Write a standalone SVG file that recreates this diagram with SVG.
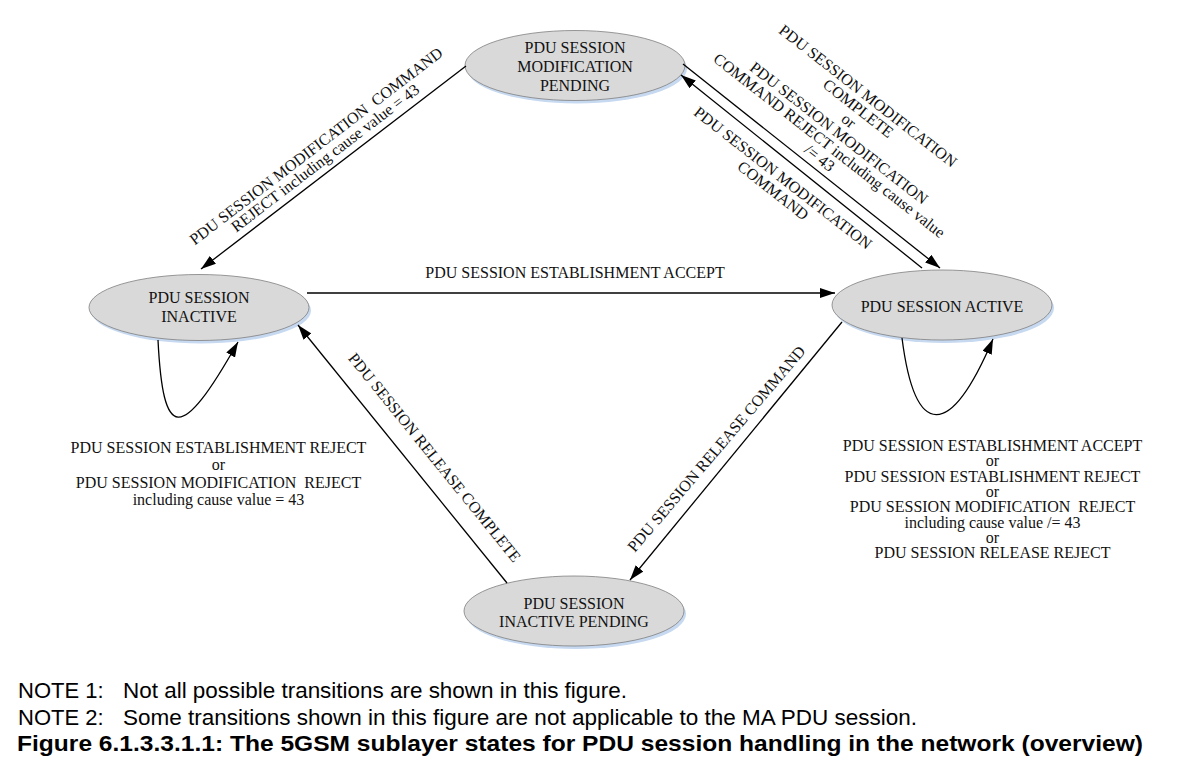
<svg xmlns="http://www.w3.org/2000/svg" width="1191" height="774" viewBox="0 0 1191 774">
  <style>
    .shadow { fill: #c6d9f0; stroke: none; }
    .state { fill: #d9d9d9; stroke: #7f7f7f; stroke-width: 0.8; }
    .t { font-family: "Liberation Serif", "Times New Roman", serif; font-size: 16px; fill: #111; text-anchor: middle; white-space: pre; }
    .edge { fill: none; stroke: #000; stroke-width: 1.3; marker-end: url(#arr); }
    .edge0 { fill: none; stroke: #000; stroke-width: 1.3; }
    .note { font-family: "Liberation Sans", Arial, sans-serif; font-size: 22px; fill: #000; }
    .cap { font-family: "Liberation Sans", Arial, sans-serif; font-size: 22px; font-weight: bold; fill: #000; }
  </style>
  <defs>
    <marker id="arr" markerWidth="15" markerHeight="10" refX="15" refY="5" orient="auto" markerUnits="userSpaceOnUse">
      <path d="M0,0 L15,5 L0,10 z" fill="#000"/>
    </marker>
  </defs>
  <rect width="1191" height="774" fill="#fff"/>

  <g id="state-modification-pending">
    <ellipse class="shadow" cx="577" cy="68.5" rx="110" ry="35"/>
    <ellipse class="state" cx="575" cy="65.5" rx="110" ry="35"/>
    <text class="t" x="575" y="53">PDU SESSION</text>
    <text class="t" x="575" y="72">MODIFICATION</text>
    <text class="t" x="575" y="91">PENDING</text>
  </g>

  <g id="state-inactive">
    <ellipse class="shadow" cx="201" cy="310.5" rx="110" ry="33"/>
    <ellipse class="state" cx="199" cy="307.5" rx="110" ry="33"/>
    <text class="t" x="199" y="303">PDU SESSION</text>
    <text class="t" x="199" y="322">INACTIVE</text>
  </g>

  <g id="state-active">
    <ellipse class="shadow" cx="944" cy="308" rx="110" ry="35"/>
    <ellipse class="state" cx="942" cy="305" rx="110" ry="35"/>
    <text class="t" x="942" y="312">PDU SESSION ACTIVE</text>
  </g>

  <g id="state-inactive-pending">
    <ellipse class="shadow" cx="576" cy="614" rx="110" ry="35"/>
    <ellipse class="state" cx="574" cy="611" rx="110" ry="35"/>
    <text class="t" x="574" y="609">PDU SESSION</text>
    <text class="t" x="574" y="627">INACTIVE PENDING</text>
  </g>

  <g id="connectors">
    <line class="edge" x1="466" y1="66" x2="201" y2="269"/>
    <line class="edge" x1="307" y1="293" x2="835" y2="293"/>
    <line class="edge" x1="683" y1="64" x2="940" y2="268"/>
    <line class="edge" x1="922" y1="268" x2="681" y2="75"/>
    <line class="edge" x1="842" y1="322" x2="630" y2="580"/>
    <line class="edge" x1="507" y1="583" x2="298" y2="325"/>
    <path class="edge" d="M158,340 C163,440 180,445 238,342"/>
    <path class="edge" d="M902,338 C915,440 950,440 993,339"/>
  </g>

  <g id="labels">
    <g transform="translate(319.3,150.3) rotate(-37.4)">
      <text class="t" x="0" y="0">PDU SESSION MODIFICATION  COMMAND</text>
      <text class="t" x="0" y="15">REJECT including cause value = 43</text>
    </g>
    <text class="t" x="575" y="278">PDU SESSION ESTABLISHMENT ACCEPT</text>
    <g transform="translate(864.7,100.2) rotate(38)">
      <text class="t" x="0" y="0">PDU SESSION MODIFICATION</text>
      <text class="t" x="0" y="15.7">COMPLETE</text>
      <text class="t" x="0" y="31.4">or</text>
      <text class="t" x="0" y="47.1">PDU SESSION MODIFICATION</text>
      <text class="t" x="0" y="62.8">COMMAND REJECT including cause value</text>
      <text class="t" x="0" y="78.5">/= 43</text>
    </g>
    <g transform="translate(779.7,182.2) rotate(38)">
      <text class="t" x="0" y="0">PDU SESSION MODIFICATION</text>
      <text class="t" x="0" y="16">COMMAND</text>
    </g>
    <g transform="translate(430.4,460.8) rotate(51)">
      <text class="t" x="0" y="0">PDU SESSION RELEASE COMPLETE</text>
    </g>
    <g transform="translate(720.5,452.4) rotate(-49.6)">
      <text class="t" x="0" y="0">PDU SESSION RELEASE COMMAND</text>
    </g>
    <g>
      <text class="t" x="218.5" y="453">PDU SESSION ESTABLISHMENT REJECT</text>
      <text class="t" x="218.5" y="470">or</text>
      <text class="t" x="218.5" y="488">PDU SESSION MODIFICATION  REJECT</text>
      <text class="t" x="218.5" y="505">including cause value = 43</text>
    </g>
    <g>
      <text class="t" x="992.5" y="451">PDU SESSION ESTABLISHMENT ACCEPT</text>
      <text class="t" x="992.5" y="466.3">or</text>
      <text class="t" x="992.5" y="481.6">PDU SESSION ESTABLISHMENT REJECT</text>
      <text class="t" x="992.5" y="496.9">or</text>
      <text class="t" x="992.5" y="512.2">PDU SESSION MODIFICATION  REJECT</text>
      <text class="t" x="992.5" y="527.5">including cause value /= 43</text>
      <text class="t" x="992.5" y="542.8">or</text>
      <text class="t" x="992.5" y="558.1">PDU SESSION RELEASE REJECT</text>
    </g>
  </g>

  <g id="notes">
    <text class="note" x="18" y="698">NOTE 1:</text>
    <text class="note" x="123" y="698" textLength="504" lengthAdjust="spacingAndGlyphs">Not all possible transitions are shown in this figure.</text>
    <text class="note" x="18" y="724.5">NOTE 2:</text>
    <text class="note" x="123" y="724.5" textLength="794" lengthAdjust="spacingAndGlyphs">Some transitions shown in this figure are not applicable to the MA PDU session.</text>
    <text class="cap" x="17" y="751" textLength="1126" lengthAdjust="spacingAndGlyphs">Figure 6.1.3.3.1.1: The 5GSM sublayer states for PDU session handling in the network (overview)</text>
  </g>
</svg>
